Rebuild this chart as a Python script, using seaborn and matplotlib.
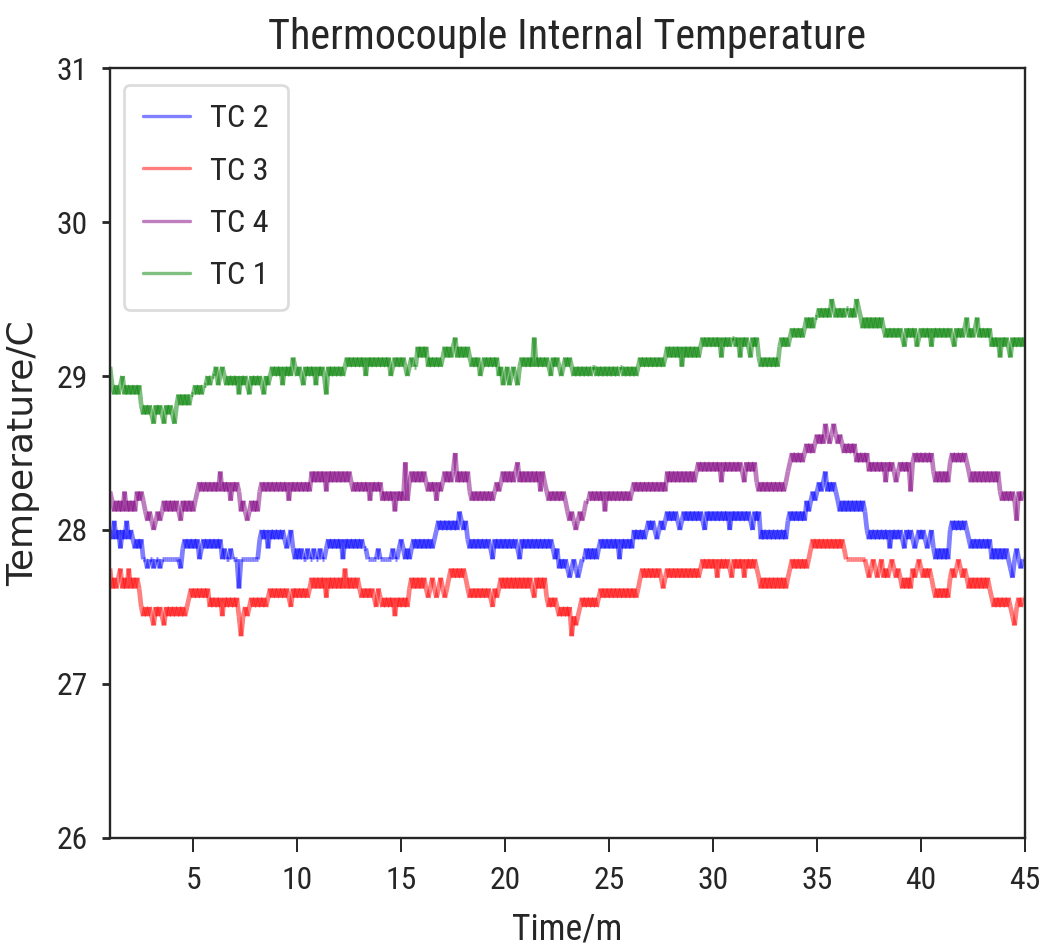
import numpy as np
import pandas as pd
import matplotlib
matplotlib.use("Agg")
import matplotlib.pyplot as plt
from matplotlib import font_manager as fm
from matplotlib.lines import Line2D
import seaborn as sns

# ---------------------------------------------------------------------------
# Logged internal temperatures (deg C), one reading every 0.1 min from 1.0 min
# to 45.0 min; each line below holds one minute of readings.
# ---------------------------------------------------------------------------
SAMPLE_START_MIN = 1.0
SAMPLE_STEP_MIN = 0.1

TC1_TEMP = [
    29.06, 28.94, 28.88, 28.94, 28.88, 28.94, 29.0, 28.88, 28.94, 28.88,
    28.94, 28.88, 28.94, 28.88, 28.94, 28.81, 28.75, 28.81, 28.75, 28.81,
    28.75, 28.69, 28.81, 28.75, 28.81, 28.75, 28.69, 28.81, 28.75, 28.81,
    28.75, 28.69, 28.81, 28.88, 28.81, 28.88, 28.81, 28.88, 28.81, 28.88,
    28.88, 28.94, 28.88, 28.94, 28.88, 28.94, 28.94, 29.0, 28.94, 29.0,
    29.0, 29.06, 28.94, 29.0, 29.06, 29.0, 28.94, 29.0, 28.94, 29.0,
    28.94, 29.0, 28.88, 29.0, 28.94, 29.0, 28.94, 28.88, 29.0, 28.94,
    29.0, 28.94, 29.0, 28.94, 28.88, 29.0, 28.94, 29.0, 29.06, 29.0,
    29.06, 29.0, 29.06, 28.94, 29.06, 29.0, 29.06, 29.0, 29.12, 29.06,
    29.0, 29.06, 29.0, 28.94, 29.06, 29.0, 29.06, 29.0, 29.06, 28.94,
    29.06, 29.0, 29.06, 29.0, 28.88, 29.06, 29.0, 29.06, 29.0, 29.06,
    29.0, 29.06, 29.0, 29.06, 29.12, 29.06, 29.12, 29.06, 29.12, 29.06,
    29.12, 29.06, 29.12, 29.0, 29.12, 29.06, 29.12, 29.06, 29.12, 29.06,
    29.12, 29.06, 29.12, 29.06, 29.12, 29.0, 29.06, 29.12, 29.06, 29.12,
    29.06, 29.12, 29.06, 29.0, 29.06, 29.12, 29.06, 29.06, 29.19, 29.12,
    29.19, 29.12, 29.19, 29.06, 29.12, 29.06, 29.12, 29.06, 29.12, 29.06,
    29.12, 29.19, 29.12, 29.19, 29.12, 29.19, 29.25, 29.12, 29.19, 29.12,
    29.19, 29.12, 29.19, 29.12, 29.06, 29.12, 29.06, 29.12, 29.0, 29.06,
    29.12, 29.06, 29.12, 29.06, 29.12, 29.06, 29.12, 29.0, 29.06, 28.94,
    29.0, 29.06, 28.94, 29.0, 29.06, 29.0, 28.94, 29.06, 29.12, 29.06,
    29.12, 29.06, 29.12, 29.06, 29.25, 29.06, 29.12, 29.06, 29.12, 29.06,
    29.12, 29.06, 29.0, 29.12, 29.06, 29.12, 29.06, 29.0, 29.06, 29.12,
    29.06, 29.12, 29.06, 29.0, 29.06, 29.0, 29.06, 29.0, 29.06, 29.0,
    29.06, 29.0, 29.06, 29.06, 29.0, 29.06, 29.0, 29.06, 29.0, 29.06,
    29.0, 29.06, 29.0, 29.06, 29.0, 29.06, 29.06, 29.0, 29.06, 29.0,
    29.06, 29.0, 29.06, 29.0, 29.06, 29.12, 29.06, 29.12, 29.06, 29.12,
    29.06, 29.12, 29.06, 29.12, 29.06, 29.12, 29.06, 29.12, 29.19, 29.12,
    29.19, 29.12, 29.19, 29.12, 29.19, 29.06, 29.19, 29.12, 29.19, 29.12,
    29.19, 29.12, 29.19, 29.12, 29.19, 29.25, 29.19, 29.25, 29.19, 29.25,
    29.19, 29.25, 29.19, 29.25, 29.12, 29.25, 29.19, 29.25, 29.19, 29.25,
    29.25, 29.19, 29.25, 29.12, 29.25, 29.19, 29.25, 29.19, 29.12, 29.25,
    29.19, 29.25, 29.12, 29.06, 29.12, 29.06, 29.12, 29.06, 29.12, 29.06,
    29.12, 29.06, 29.19, 29.25, 29.19, 29.25, 29.19, 29.25, 29.31, 29.25,
    29.31, 29.25, 29.31, 29.25, 29.31, 29.38, 29.31, 29.38, 29.31, 29.38,
    29.38, 29.44, 29.38, 29.44, 29.38, 29.44, 29.38, 29.5, 29.44, 29.38,
    29.44, 29.38, 29.44, 29.38, 29.44, 29.44, 29.38, 29.44, 29.38, 29.5,
    29.44, 29.38, 29.31, 29.38, 29.31, 29.38, 29.31, 29.38, 29.31, 29.38,
    29.31, 29.38, 29.31, 29.25, 29.31, 29.25, 29.31, 29.25, 29.31, 29.25,
    29.31, 29.25, 29.19, 29.31, 29.25, 29.31, 29.25, 29.31, 29.19, 29.25,
    29.31, 29.25, 29.31, 29.25, 29.31, 29.19, 29.31, 29.25, 29.31, 29.25,
    29.31, 29.25, 29.31, 29.25, 29.31, 29.25, 29.19, 29.31, 29.25, 29.31,
    29.25, 29.31, 29.38, 29.25, 29.31, 29.25, 29.31, 29.38, 29.25, 29.31,
    29.25, 29.31, 29.25, 29.31, 29.19, 29.25, 29.19, 29.25, 29.12, 29.25,
    29.19, 29.25, 29.19, 29.12, 29.25, 29.19, 29.25, 29.19, 29.25, 29.19,
    29.25,
]

TC2_TEMP = [
    28.0, 27.94, 28.06, 27.94, 28.0, 27.88, 28.0, 27.94, 28.06, 27.94,
    28.0, 27.94, 27.88, 27.94, 27.88, 27.94, 27.81, 27.81, 27.75, 27.81,
    27.81, 27.75, 27.81, 27.81, 27.75, 27.81, 27.81, 27.81, 27.81, 27.81,
    27.81, 27.81, 27.81, 27.81, 27.75, 27.88, 27.94, 27.88, 27.94, 27.88,
    27.94, 27.88, 27.94, 27.81, 27.88, 27.94, 27.88, 27.94, 27.88, 27.94,
    27.88, 27.94, 27.88, 27.94, 27.81, 27.88, 27.81, 27.81, 27.88, 27.81,
    27.81, 27.81, 27.62, 27.81, 27.81, 27.81, 27.81, 27.81, 27.81, 27.81,
    27.81, 27.81, 27.94, 28.0, 27.94, 28.0, 27.88, 28.0, 27.94, 28.0,
    27.94, 28.0, 27.94, 28.0, 27.94, 27.88, 27.94, 28.0, 27.88, 27.81,
    27.88, 27.81, 27.88, 27.81, 27.81, 27.88, 27.81, 27.81, 27.88, 27.81,
    27.81, 27.88, 27.81, 27.81, 27.88, 27.94, 27.88, 27.94, 27.88, 27.94,
    27.88, 27.94, 27.81, 27.94, 27.88, 27.94, 27.88, 27.94, 27.88, 27.94,
    27.88, 27.94, 27.88, 27.88, 27.81, 27.81, 27.81, 27.81, 27.81, 27.88,
    27.81, 27.81, 27.81, 27.81, 27.81, 27.81, 27.88, 27.81, 27.81, 27.88,
    27.94, 27.88, 27.81, 27.88, 27.81, 27.88, 27.94, 27.88, 27.94, 27.88,
    27.94, 27.88, 27.94, 27.88, 27.94, 27.88, 27.94, 28.0, 28.06, 28.0,
    28.06, 28.0, 28.06, 28.0, 28.06, 28.0, 28.06, 28.0, 28.12, 28.06,
    28.0, 28.06, 27.94, 27.88, 27.94, 27.88, 27.94, 27.88, 27.94, 27.88,
    27.94, 27.88, 27.94, 27.88, 27.81, 27.94, 27.88, 27.94, 27.88, 27.94,
    27.88, 27.94, 27.88, 27.94, 27.88, 27.94, 27.88, 27.81, 27.94, 27.88,
    27.94, 27.88, 27.94, 27.88, 27.94, 27.88, 27.94, 27.88, 27.94, 27.88,
    27.94, 27.88, 27.94, 27.88, 27.81, 27.88, 27.75, 27.81, 27.75, 27.81,
    27.75, 27.69, 27.75, 27.81, 27.75, 27.69, 27.75, 27.81, 27.81, 27.88,
    27.81, 27.88, 27.81, 27.88, 27.81, 27.88, 27.94, 27.88, 27.94, 27.88,
    27.94, 27.88, 27.94, 27.88, 27.94, 27.81, 27.94, 27.88, 27.94, 27.88,
    27.94, 27.88, 28.0, 27.94, 28.0, 27.94, 28.0, 27.94, 28.0, 28.06,
    28.0, 28.06, 28.0, 27.94, 28.0, 28.06, 28.0, 28.06, 28.12, 28.06,
    28.12, 28.06, 28.12, 28.06, 28.0, 28.06, 28.12, 28.06, 28.12, 28.06,
    28.12, 28.06, 28.12, 28.06, 28.12, 28.06, 28.0, 28.12, 28.06, 28.12,
    28.06, 28.12, 28.06, 28.12, 28.06, 28.12, 28.06, 28.12, 28.0, 28.12,
    28.06, 28.12, 28.06, 28.12, 28.06, 28.12, 28.06, 28.12, 28.06, 28.0,
    28.12, 28.06, 28.12, 27.94, 28.0, 27.94, 28.0, 27.94, 28.0, 27.94,
    28.0, 27.94, 28.0, 27.94, 28.0, 27.94, 28.06, 28.12, 28.06, 28.12,
    28.06, 28.12, 28.06, 28.12, 28.06, 28.19, 28.12, 28.19, 28.25, 28.19,
    28.25, 28.31, 28.25, 28.31, 28.38, 28.25, 28.31, 28.25, 28.31, 28.25,
    28.19, 28.12, 28.19, 28.12, 28.19, 28.12, 28.19, 28.12, 28.19, 28.12,
    28.19, 28.12, 28.19, 28.12, 28.0, 27.94, 28.0, 27.94, 28.0, 27.94,
    28.0, 27.94, 28.0, 27.94, 28.0, 27.88, 28.0, 27.94, 28.0, 27.94,
    28.0, 27.94, 27.88, 28.0, 27.94, 28.0, 27.94, 27.88, 27.94, 28.0,
    27.94, 28.0, 27.94, 27.88, 27.94, 28.0, 27.88, 27.81, 27.88, 27.81,
    27.88, 27.81, 27.88, 27.81, 28.0, 28.06, 28.0, 28.06, 28.0, 28.06,
    28.0, 28.06, 28.0, 27.94, 27.88, 27.94, 27.88, 27.94, 27.88, 27.94,
    27.88, 27.94, 27.88, 27.94, 27.81, 27.88, 27.81, 27.88, 27.81, 27.88,
    27.81, 27.88, 27.81, 27.75, 27.69, 27.81, 27.88, 27.81, 27.75, 27.81,
    27.81,
]

TC3_TEMP = [
    27.75, 27.62, 27.69, 27.62, 27.69, 27.75, 27.62, 27.69, 27.62, 27.75,
    27.62, 27.69, 27.62, 27.69, 27.62, 27.5, 27.44, 27.5, 27.44, 27.5,
    27.44, 27.38, 27.5, 27.44, 27.5, 27.44, 27.38, 27.5, 27.44, 27.5,
    27.44, 27.5, 27.44, 27.5, 27.44, 27.5, 27.44, 27.5, 27.56, 27.62,
    27.56, 27.62, 27.56, 27.62, 27.56, 27.62, 27.56, 27.62, 27.5, 27.56,
    27.5, 27.56, 27.5, 27.56, 27.44, 27.56, 27.5, 27.56, 27.5, 27.56,
    27.5, 27.56, 27.44, 27.31, 27.44, 27.5, 27.44, 27.5, 27.56, 27.5,
    27.56, 27.5, 27.56, 27.5, 27.56, 27.5, 27.56, 27.62, 27.56, 27.62,
    27.56, 27.62, 27.56, 27.62, 27.56, 27.62, 27.56, 27.5, 27.62, 27.56,
    27.62, 27.56, 27.62, 27.56, 27.62, 27.56, 27.62, 27.69, 27.62, 27.69,
    27.62, 27.69, 27.62, 27.69, 27.56, 27.69, 27.62, 27.69, 27.62, 27.69,
    27.62, 27.69, 27.62, 27.75, 27.62, 27.69, 27.62, 27.69, 27.62, 27.69,
    27.62, 27.56, 27.62, 27.56, 27.62, 27.56, 27.62, 27.56, 27.5, 27.62,
    27.56, 27.5, 27.56, 27.5, 27.56, 27.5, 27.56, 27.44, 27.56, 27.5,
    27.56, 27.5, 27.56, 27.5, 27.62, 27.69, 27.62, 27.69, 27.62, 27.69,
    27.62, 27.69, 27.62, 27.56, 27.62, 27.69, 27.62, 27.56, 27.62, 27.69,
    27.62, 27.56, 27.62, 27.69, 27.75, 27.69, 27.75, 27.69, 27.75, 27.69,
    27.75, 27.69, 27.62, 27.56, 27.62, 27.56, 27.62, 27.56, 27.62, 27.56,
    27.62, 27.56, 27.62, 27.56, 27.5, 27.62, 27.56, 27.62, 27.69, 27.62,
    27.69, 27.62, 27.69, 27.62, 27.69, 27.62, 27.69, 27.62, 27.69, 27.62,
    27.69, 27.62, 27.69, 27.62, 27.56, 27.69, 27.62, 27.69, 27.62, 27.69,
    27.56, 27.5, 27.56, 27.5, 27.56, 27.5, 27.44, 27.5, 27.44, 27.5,
    27.44, 27.5, 27.31, 27.44, 27.38, 27.44, 27.5, 27.56, 27.5, 27.56,
    27.5, 27.56, 27.5, 27.56, 27.5, 27.56, 27.62, 27.56, 27.62, 27.56,
    27.62, 27.56, 27.62, 27.56, 27.62, 27.56, 27.62, 27.56, 27.62, 27.56,
    27.62, 27.56, 27.62, 27.56, 27.62, 27.69, 27.75, 27.69, 27.75, 27.69,
    27.75, 27.69, 27.75, 27.69, 27.75, 27.69, 27.62, 27.69, 27.75, 27.69,
    27.75, 27.69, 27.75, 27.69, 27.75, 27.69, 27.75, 27.69, 27.75, 27.69,
    27.75, 27.69, 27.75, 27.69, 27.75, 27.81, 27.75, 27.81, 27.75, 27.81,
    27.75, 27.81, 27.69, 27.81, 27.75, 27.81, 27.75, 27.81, 27.75, 27.69,
    27.81, 27.75, 27.81, 27.75, 27.81, 27.69, 27.81, 27.75, 27.81, 27.75,
    27.81, 27.75, 27.69, 27.62, 27.69, 27.62, 27.69, 27.62, 27.69, 27.62,
    27.69, 27.62, 27.69, 27.62, 27.69, 27.62, 27.69, 27.75, 27.81, 27.75,
    27.81, 27.75, 27.81, 27.75, 27.81, 27.75, 27.81, 27.88, 27.94, 27.88,
    27.94, 27.88, 27.94, 27.88, 27.94, 27.88, 27.94, 27.88, 27.94, 27.88,
    27.94, 27.88, 27.94, 27.88, 27.81, 27.81, 27.81, 27.81, 27.81, 27.81,
    27.81, 27.81, 27.81, 27.81, 27.75, 27.69, 27.75, 27.81, 27.75, 27.69,
    27.75, 27.81, 27.69, 27.75, 27.69, 27.75, 27.81, 27.75, 27.69, 27.75,
    27.69, 27.62, 27.69, 27.62, 27.69, 27.62, 27.75, 27.69, 27.75, 27.81,
    27.75, 27.69, 27.75, 27.69, 27.75, 27.69, 27.62, 27.56, 27.62, 27.56,
    27.62, 27.56, 27.62, 27.56, 27.69, 27.75, 27.69, 27.75, 27.81, 27.75,
    27.69, 27.75, 27.69, 27.62, 27.69, 27.62, 27.69, 27.62, 27.69, 27.62,
    27.69, 27.62, 27.69, 27.62, 27.56, 27.5, 27.56, 27.5, 27.56, 27.5,
    27.56, 27.5, 27.56, 27.5, 27.44, 27.38, 27.5, 27.56, 27.5, 27.56,
    27.56,
]

TC4_TEMP = [
    28.25, 28.19, 28.12, 28.19, 28.12, 28.19, 28.12, 28.25, 28.12, 28.19,
    28.12, 28.19, 28.12, 28.25, 28.19, 28.25, 28.19, 28.12, 28.06, 28.12,
    28.06, 28.0, 28.06, 28.12, 28.06, 28.12, 28.19, 28.12, 28.19, 28.12,
    28.19, 28.12, 28.19, 28.12, 28.06, 28.19, 28.12, 28.19, 28.12, 28.19,
    28.12, 28.19, 28.25, 28.31, 28.25, 28.31, 28.25, 28.31, 28.25, 28.31,
    28.25, 28.31, 28.25, 28.38, 28.25, 28.31, 28.25, 28.31, 28.19, 28.31,
    28.25, 28.31, 28.25, 28.12, 28.19, 28.12, 28.06, 28.12, 28.19, 28.12,
    28.19, 28.12, 28.25, 28.31, 28.25, 28.31, 28.25, 28.31, 28.25, 28.31,
    28.25, 28.31, 28.25, 28.31, 28.25, 28.31, 28.19, 28.31, 28.25, 28.31,
    28.25, 28.31, 28.25, 28.31, 28.25, 28.31, 28.25, 28.38, 28.31, 28.38,
    28.31, 28.38, 28.31, 28.38, 28.25, 28.38, 28.31, 28.38, 28.31, 28.38,
    28.31, 28.38, 28.31, 28.38, 28.31, 28.38, 28.31, 28.25, 28.31, 28.25,
    28.31, 28.25, 28.31, 28.25, 28.31, 28.19, 28.31, 28.25, 28.31, 28.25,
    28.31, 28.19, 28.25, 28.19, 28.25, 28.19, 28.25, 28.12, 28.25, 28.19,
    28.25, 28.19, 28.44, 28.19, 28.31, 28.38, 28.31, 28.38, 28.31, 28.38,
    28.31, 28.38, 28.31, 28.25, 28.31, 28.25, 28.31, 28.19, 28.31, 28.25,
    28.31, 28.38, 28.31, 28.38, 28.31, 28.38, 28.5, 28.31, 28.38, 28.31,
    28.38, 28.31, 28.38, 28.25, 28.19, 28.25, 28.19, 28.25, 28.19, 28.25,
    28.19, 28.25, 28.19, 28.25, 28.19, 28.25, 28.31, 28.25, 28.31, 28.38,
    28.31, 28.38, 28.31, 28.38, 28.31, 28.38, 28.44, 28.31, 28.38, 28.31,
    28.38, 28.31, 28.38, 28.31, 28.38, 28.31, 28.38, 28.25, 28.38, 28.31,
    28.25, 28.19, 28.25, 28.19, 28.25, 28.19, 28.25, 28.19, 28.25, 28.19,
    28.12, 28.06, 28.12, 28.06, 28.0, 28.06, 28.12, 28.06, 28.12, 28.19,
    28.19, 28.25, 28.19, 28.25, 28.19, 28.25, 28.19, 28.25, 28.12, 28.25,
    28.19, 28.25, 28.19, 28.25, 28.19, 28.25, 28.19, 28.25, 28.19, 28.25,
    28.19, 28.25, 28.31, 28.25, 28.31, 28.25, 28.31, 28.25, 28.31, 28.25,
    28.31, 28.25, 28.31, 28.25, 28.31, 28.25, 28.31, 28.25, 28.38, 28.31,
    28.38, 28.31, 28.38, 28.31, 28.38, 28.31, 28.38, 28.31, 28.38, 28.31,
    28.38, 28.31, 28.38, 28.44, 28.38, 28.44, 28.38, 28.44, 28.38, 28.44,
    28.38, 28.44, 28.38, 28.44, 28.31, 28.44, 28.38, 28.44, 28.38, 28.44,
    28.38, 28.44, 28.38, 28.44, 28.38, 28.31, 28.44, 28.38, 28.44, 28.38,
    28.44, 28.31, 28.25, 28.31, 28.25, 28.31, 28.25, 28.31, 28.25, 28.31,
    28.25, 28.31, 28.25, 28.31, 28.25, 28.31, 28.38, 28.44, 28.5, 28.44,
    28.5, 28.44, 28.5, 28.44, 28.5, 28.56, 28.5, 28.56, 28.5, 28.56,
    28.62, 28.56, 28.62, 28.56, 28.69, 28.62, 28.56, 28.62, 28.69, 28.62,
    28.56, 28.62, 28.56, 28.5, 28.56, 28.5, 28.56, 28.5, 28.56, 28.44,
    28.5, 28.44, 28.5, 28.44, 28.5, 28.38, 28.44, 28.38, 28.44, 28.38,
    28.44, 28.38, 28.44, 28.31, 28.44, 28.38, 28.44, 28.38, 28.31, 28.38,
    28.44, 28.38, 28.44, 28.38, 28.44, 28.25, 28.44, 28.5, 28.44, 28.5,
    28.44, 28.5, 28.44, 28.5, 28.44, 28.5, 28.38, 28.31, 28.38, 28.31,
    28.38, 28.31, 28.38, 28.31, 28.44, 28.5, 28.44, 28.5, 28.44, 28.5,
    28.44, 28.5, 28.44, 28.38, 28.31, 28.38, 28.31, 28.38, 28.31, 28.38,
    28.31, 28.38, 28.31, 28.38, 28.31, 28.38, 28.31, 28.38, 28.25, 28.19,
    28.25, 28.19, 28.25, 28.19, 28.25, 28.19, 28.06, 28.25, 28.19, 28.25,
    28.25,
]

SENSOR_ORDER = ["TC 2", "TC 3", "TC 4", "TC 1"]
SENSOR_COLORS = {"TC 2": "blue", "TC 3": "red", "TC 4": "purple", "TC 1": "green"}
X_TICKS = [5, 10, 15, 20, 25, 30, 35, 40, 45]
Y_TICKS = [26, 27, 28, 29, 30, 31]

TITLE = "Thermocouple Internal Temperature"
X_LABEL = "Time/m"
Y_LABEL = "Temperature/C"

LINE_ALPHA = 0.5
LINE_WIDTH = 3.4
LEGEND_LINE_WIDTH = 2.4

# ---------------------------------------------------------------------------
# Long-form table for seaborn.  Every step between two consecutive readings is
# its own unit, so each step is stroked separately and the semi-transparent
# strokes build up where the reading flickers between levels.
# ---------------------------------------------------------------------------
series = {"TC 1": TC1_TEMP, "TC 2": TC2_TEMP, "TC 3": TC3_TEMP, "TC 4": TC4_TEMP}
frames = []
for name, temps in series.items():
    temps = np.asarray(temps, dtype=float)
    minutes = SAMPLE_START_MIN + SAMPLE_STEP_MIN * np.arange(len(temps))
    step = np.arange(len(temps) - 1)
    frames.append(pd.DataFrame({
        "Time": np.concatenate([minutes[:-1], minutes[1:]]),
        "Temperature": np.concatenate([temps[:-1], temps[1:]]),
        "Step": np.concatenate([step, step]),
        "Sensor": name,
    }))
df = pd.concat(frames, ignore_index=True).sort_values(["Sensor", "Step", "Time"])

# ---------------------------------------------------------------------------
# Style and fonts: tall, narrow lettering
# ---------------------------------------------------------------------------
sns.set_theme(style="ticks", rc={"axes.edgecolor": ".15", "axes.linewidth": 1.7})

_installed = {f.name for f in fm.fontManager.ttflist}
_narrow_options = [
    ("Liberation Sans Narrow", 1.0),
    ("DejaVu Sans Condensed", 0.9),
    ("Roboto Condensed", 0.95),
    ("Open Sans Condensed", 0.95),
]
narrow_family, size_scale = "DejaVu Sans", 0.82
for fam, scale in _narrow_options:
    if fam in _installed:
        narrow_family, size_scale = fam, scale
        break

plt.rcParams["font.family"] = [narrow_family, "DejaVu Sans"]
plt.rcParams["font.stretch"] = "condensed"

TICK_FS = 24 * size_scale
TITLE_FS = 32 * size_scale
LABEL_FS = 27 * size_scale
LEGEND_FS = 24.5 * size_scale

# ---------------------------------------------------------------------------
# Figure
# ---------------------------------------------------------------------------
fig = plt.figure(figsize=(10.42, 9.49), dpi=100)
fig.subplots_adjust(left=0.1056, right=0.9837, bottom=0.1170, top=0.9283)
ax = fig.add_subplot(111)

sns.lineplot(
    data=df, x="Time", y="Temperature", hue="Sensor", units="Step",
    hue_order=SENSOR_ORDER, palette=SENSOR_COLORS,
    estimator=None, sort=False, alpha=LINE_ALPHA, linewidth=LINE_WIDTH,
    solid_capstyle="butt", legend=False, ax=ax,
)

ax.set_xlim(1, 45)
ax.set_ylim(26, 31)
ax.set_xticks(X_TICKS)
ax.set_yticks(Y_TICKS)
ax.tick_params(axis="x", length=10, width=1.4, pad=10, labelsize=TICK_FS, color=".15")
ax.tick_params(axis="y", length=6, width=2.0, pad=10, labelsize=TICK_FS, color=".15")

ax.set_title(TITLE, fontsize=TITLE_FS, pad=14)
ax.set_xlabel(X_LABEL, fontsize=LABEL_FS, labelpad=12)
ax.set_ylabel(Y_LABEL, fontsize=26, family="DejaVu Sans", fontstretch="normal", labelpad=12)

handles = [Line2D([], [], color=SENSOR_COLORS[s], alpha=LINE_ALPHA, linewidth=LEGEND_LINE_WIDTH)
           for s in SENSOR_ORDER]
leg = ax.legend(
    handles, SENSOR_ORDER,
    loc="upper left", bbox_to_anchor=(0.0153, 0.978), borderaxespad=0,
    fontsize=LEGEND_FS, handlelength=1.45, handletextpad=0.6,
    borderpad=0.6, labelspacing=0.72, frameon=True, fancybox=True,
)
leg.get_frame().set_edgecolor("#d4d4d4")
leg.get_frame().set_linewidth(2.0)

fig.savefig("out.png", dpi=100)
